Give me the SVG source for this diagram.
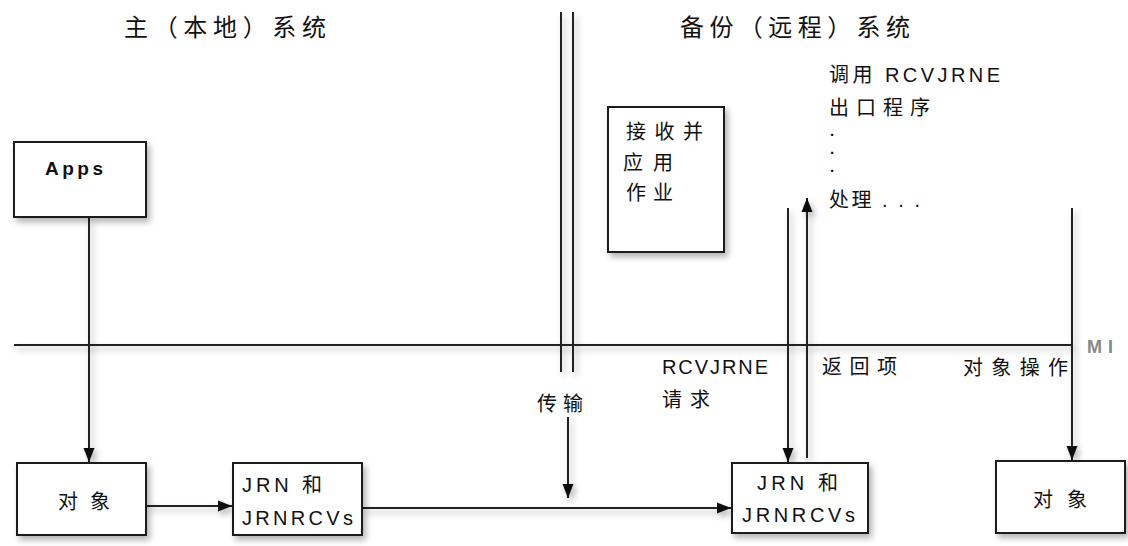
<svg xmlns="http://www.w3.org/2000/svg" width="1128" height="546" viewBox="0 0 1128 546">
<defs>
<filter id="sh" x="-20%" y="-20%" width="150%" height="150%">
<feDropShadow dx="3" dy="4" stdDeviation="3" flood-color="#000" flood-opacity="0.3"/>
</filter>
<marker id="ah" markerUnits="userSpaceOnUse" markerWidth="14" markerHeight="14" viewBox="0 0 14 12" refX="14" refY="6" orient="auto">
<path d="M0,0.5 L14,6 L0,11.5 Z" fill="#111"/>
</marker>
</defs>
<style>
.box{fill:#fff;stroke:#1a1a1a;stroke-width:2;filter:url(#sh)}
.ln{fill:none;stroke:#222;stroke-width:2}
.sh{filter:url(#sh)}
text{font-family:"Liberation Sans","Noto Sans CJK SC",sans-serif;font-size:20px;fill:#111}
.ttl{font-size:24px}
.mi{font-weight:bold;fill:#888;font-size:18px}
.bold{font-weight:bold;font-size:19px}
.dot{font-size:15px;font-weight:bold}
</style>
<rect width="1128" height="546" fill="#fff"/>

<g id="titles">
<text class="ttl" x="124" y="36" textLength="202" lengthAdjust="spacing">主（本地）系统</text>
<text class="ttl" x="680" y="36" textLength="230" lengthAdjust="spacing">备份（远程）系统</text>
</g>

<g id="connectors" class="sh">
<line class="ln" x1="561" y1="12" x2="561" y2="372"/>
<line class="ln" x1="573" y1="12" x2="573" y2="372"/>
<line class="ln" x1="14" y1="345" x2="1072" y2="345"/>
<line class="ln" x1="14" y1="345" x2="50" y2="345" stroke-width="2.5"/>
<line class="ln" x1="89" y1="217" x2="89" y2="462" marker-end="url(#ah)"/>
<line class="ln" x1="146" y1="506" x2="232" y2="506" marker-end="url(#ah)"/>
<line class="ln" x1="362" y1="508" x2="731" y2="508" marker-end="url(#ah)"/>
<line class="ln" x1="568" y1="417" x2="568" y2="498" marker-end="url(#ah)"/>
<line class="ln" x1="788" y1="208" x2="788" y2="462" marker-end="url(#ah)"/>
<line class="ln" x1="807" y1="458" x2="807" y2="198" marker-end="url(#ah)"/>
<line class="ln" x1="1072" y1="208" x2="1072" y2="460" marker-end="url(#ah)"/>
</g>

<g id="apps">
<rect class="box" x="14" y="142" width="132" height="75"/>
<text class="bold" x="45" y="175" textLength="58" lengthAdjust="spacing">Apps</text>
</g>

<g id="recv-apply">
<rect class="box" x="608" y="107" width="116" height="145"/>
<text x="626" y="139" textLength="77" lengthAdjust="spacing">接收并</text>
<text x="623" y="170" textLength="50" lengthAdjust="spacing">应用</text>
<text x="626" y="200" textLength="47" lengthAdjust="spacing">作业</text>
</g>

<g id="exit-program">
<text x="829" y="82" textLength="171" lengthAdjust="spacing">调用 RCVJRNE</text>
<text x="829" y="115" textLength="101" lengthAdjust="spacing">出口程序</text>
<text class="dot" x="830" y="136">.</text>
<text class="dot" x="830" y="154">.</text>
<text class="dot" x="830" y="172">.</text>
<text x="829" y="207" textLength="91" lengthAdjust="spacing">处理 . . .</text>
</g>

<g id="labels">
<text x="1087" y="353" class="mi" textLength="26" lengthAdjust="spacing">MI</text>
<text x="662" y="374" textLength="106" lengthAdjust="spacing" font-size="19">RCVJRNE</text>
<text x="662" y="407" textLength="48" lengthAdjust="spacing">请求</text>
<text x="822" y="374" textLength="75" lengthAdjust="spacing">返回项</text>
<text x="963" y="375" textLength="105" lengthAdjust="spacing">对象操作</text>
<text x="537" y="411" textLength="46" lengthAdjust="spacing">传输</text>
</g>

<g id="obj-local">
<rect class="box" x="17" y="463" width="129" height="72"/>
<text x="58" y="509" textLength="52" lengthAdjust="spacing">对象</text>
</g>

<g id="jrn-local">
<rect class="box" x="233" y="463" width="129" height="72"/>
<text x="242" y="492" textLength="80" lengthAdjust="spacing">JRN 和</text>
<text x="242" y="525" textLength="111" lengthAdjust="spacing">JRNRCVs</text>
</g>

<g id="jrn-remote">
<rect class="box" x="732" y="463" width="136" height="70"/>
<text x="757" y="490" textLength="81" lengthAdjust="spacing">JRN 和</text>
<text x="742" y="522" textLength="113" lengthAdjust="spacing">JRNRCVs</text>
</g>

<g id="obj-remote">
<rect class="box" x="996" y="461" width="129" height="72"/>
<text x="1033" y="507" textLength="54" lengthAdjust="spacing">对象</text>
</g>
</svg>
